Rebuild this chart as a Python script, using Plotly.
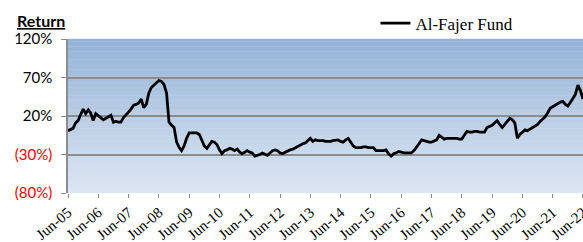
import plotly.graph_objects as go
import pandas as pd

# Monthly fund return (%), Jun-05 .. Jun-22
returns = [
    1, 2, 4, 11, 14, 22, 29, 23, 28, 24, 14, 23, 20, 18, 15, 17, 19, 21, 12, 13,
    12, 12, 18, 21, 25, 29, 34, 35, 37, 42, 31, 35, 50, 57, 60, 63, 66, 65, 61, 50,
    12, 8, 5, -14, -21, -25, -19, -9, -2, -2, -2, -2, -4, -12, -19, -22, -18, -13, -14, -17,
    -24, -29, -25, -24, -22, -23, -25, -23, -27, -29, -27, -25, -27, -28, -32, -31, -30, -28, -30, -31,
    -28, -25, -24, -25, -28, -29, -27, -25, -24, -23, -21, -19, -18, -16, -15, -12, -9, -13, -11, -12,
    -12, -12, -13, -13, -13, -12, -11, -11, -13, -14, -11, -9, -14, -19, -21, -21, -21, -20, -20, -21,
    -21, -21, -25, -25, -25, -25, -24, -29, -32, -29, -28, -26, -27, -28, -28, -28, -28, -25, -21, -16,
    -11, -12, -13, -14, -14, -13, -11, -5, -8, -10, -9, -9, -9, -9, -9, -10, -10, -5, 0, -1,
    -1, 0, 0, -1, -1, -1, 5, 6, 8, 11, 14, 9, 5, 9, 13, 17, 15, 11, -9, -4,
    -1, 2, 1, 3, 6, 8, 9, 13, 16, 19, 24, 30, 32, 34, 36, 38, 39, 35, 33, 39,
    43, 48, 60, 53, 42,
]
dates = pd.date_range("2005-06-01", periods=len(returns), freq="MS")

tick_years = list(range(2005, 2023))
tick_dates = [pd.Timestamp(f"{y}-06-01") for y in tick_years]
tick_labels = [f"Jun-{y % 100:02d}" for y in tick_years]

y_ticks = [-80, -30, 20, 70, 120]
y_labels = ["<span style='color:#FF0000'>(80%)</span>",
            "<span style='color:#FF0000'>(30%)</span>",
            "20%", "70%", "120%"]

SERIF = "Liberation Serif"

fig = go.Figure()
fig.add_trace(go.Scatter(
    x=dates, y=returns, mode="lines", name="Al-Fajer Fund",
    line=dict(color="#000000", width=2.8),
))

# vertical gradient background bands
top = (0x95, 0xB3, 0xD7)
bot = (0xDC, 0xE6, 0xF2)
n = 60
shapes = []
for i in range(n):
    t = i / (n - 1)
    c = tuple(round(top[k] + (bot[k] - top[k]) * t) for k in range(3))
    shapes.append(dict(
        type="rect", xref="paper", yref="paper", layer="below",
        x0=0, x1=1, y0=1 - (i + 1) / n, y1=1 - i / n + 0.002,
        fillcolor="rgb(%d,%d,%d)" % c, line=dict(width=0),
    ))

fig.update_layout(
    width=583, height=242,
    margin=dict(l=68, r=0, t=39, b=49, autoexpand=False),
    paper_bgcolor="white", plot_bgcolor="#DCE6F2",
    shapes=shapes,
    showlegend=True,
    legend=dict(x=0.597, y=1.1, xanchor="left", yanchor="middle",
                bgcolor="rgba(0,0,0,0)", borderwidth=0, itemwidth=30,
                font=dict(family=SERIF, size=17, color="black")),
    annotations=[dict(
        text="<b><u>Return</u></b>", xref="paper", yref="paper",
        x=-0.0515, y=1.117, xanchor="center", yanchor="middle", showarrow=False,
        font=dict(family="Lato", size=16, color="black"),
    )],
    xaxis=dict(
        type="date", range=[pd.Timestamp("2005-06-01"), pd.Timestamp("2022-06-01 06:00")],
        automargin=False, ticklabeloverflow="allow",
        tickvals=tick_dates, ticktext=tick_labels, tickangle=-40,
        ticks="outside", ticklen=4, tickcolor="#8C8C8C",
        showgrid=False, showline=False, zeroline=False,
        tickfont=dict(family=SERIF, size=15, color="black"),
    ),
    yaxis=dict(
        range=[-80, 120], tickvals=y_ticks, ticktext=y_labels, automargin=False,
        ticks="outside", ticklen=5, tickcolor="#8C8C8C",
        showgrid=True, gridcolor="#8C8C8C", gridwidth=1.5,
        showline=True, linecolor="#8C8C8C", linewidth=1.5,
        zeroline=False, ticklabelstandoff=6,
        tickfont=dict(family="Lato", size=15, color="black"),
    ),
)

fig.write_html("out.html", config={"displayModeBar": False},
               post_script="document.body.style.margin='0';")
